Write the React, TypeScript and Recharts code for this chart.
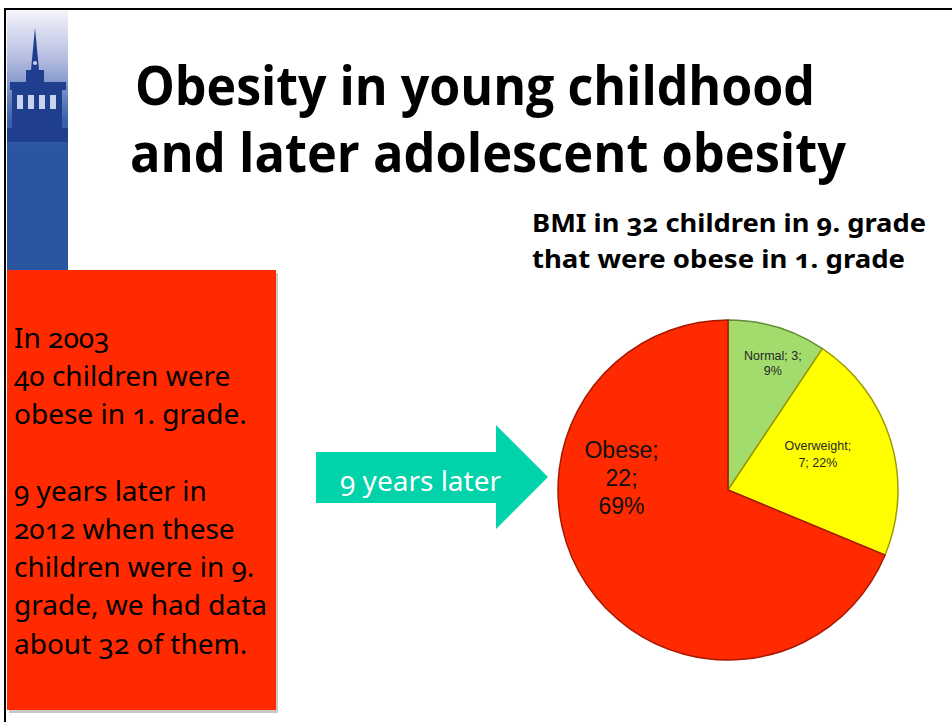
import React from 'react';
import { PieChart, Pie, Cell } from 'recharts';

// BMI groups in 9th grade among the children who were obese in 1st grade
const categories = ['Normal', 'Overweight', 'Obese'];
const counts = [3, 7, 22];
const percents = [9, 22, 69];

const titleLines = ['Obesity in young childhood', 'and later adolescent obesity'];
const subtitleLines = ['BMI in 32 children in 9. grade', 'that were obese in 1. grade'];
const boxLines = [
    'In 2003',
    '40 children were',
    'obese in 1. grade.',
    '',
    '9 years later in',
    '2012 when these',
    'children were in 9.',
    'grade, we had data',
    'about 32 of them.',
];
const arrowText = '9 years later';

const sliceColors = ['#a3dc6c', '#ffff00', '#ff2a00'];
const sliceEdges = ['#5f8c34', '#9c9c00', '#a81800'];

const data = categories.map((name, i) => ({ name, value: counts[i], pct: percents[i] }));

// where each slice label sits: fraction of radius, angle clockwise from 12 o'clock
const labelStyle = [
    { f: 0.79, a: 19.5, size: 12.5, lh: 15, color: '#262626' },
    { f: 0.57, a: 68, size: 12.5, lh: 17, color: '#262626' },
    { f: 0.63, a: 276.4, size: 23, lh: 28, color: '#111' },
];

const labelLines = (d: { name: string; value: number; pct: number }, i: number) => {
    if (i === 0) return [`${d.name}; ${d.value};`, `${d.pct}%`];
    if (i === 1) return [`${d.name};`, `${d.value}; ${d.pct}%`];
    return [`${d.name};`, `${d.value};`, `${d.pct}%`];
};

const renderLabel = (props: any) => {
    const { cx, cy, outerRadius, index } = props;
    const s = labelStyle[index];
    const rad = (s.a * Math.PI) / 180;
    const x = cx + outerRadius * s.f * Math.sin(rad);
    const y = cy - outerRadius * s.f * Math.cos(rad);
    const lines = labelLines(data[index], index);
    const y0 = y - ((lines.length - 1) * s.lh) / 2 + s.size * 0.35;
    return (
        <text
            key={`lbl-${index}`}
            x={x}
            y={y0}
            textAnchor="middle"
            fill={s.color}
            fontSize={s.size}
            fontFamily="'Liberation Sans', Arial, sans-serif"
        >
            {lines.map((l, k) => (
                <tspan key={k} x={x} y={y0 + k * s.lh}>{l}</tspan>
            ))}
        </text>
    );
};

const humanist = "'Noto Sans', 'Open Sans', sans-serif";

const Slide = () => (
    <svg width={952} height={722} style={{ position: 'absolute', left: 0, top: 0 }}>
        <defs>
            <linearGradient id="blueBar" x1="0" y1="0" x2="0" y2="1">
                <stop offset="0%" stopColor="#f4f4fb" />
                <stop offset="18%" stopColor="#b8bfe2" />
                <stop offset="42%" stopColor="#3a62aa" />
                <stop offset="52%" stopColor="#2a56a0" />
                <stop offset="100%" stopColor="#2a56a0" />
            </linearGradient>
        </defs>
        <rect x={0} y={0} width={952} height={722} fill="#fff" />

        {/* left banner with the tower */}
        <rect x={7} y={10} width={61} height={262} fill="url(#blueBar)" />
        <g fill="#1f3f8e">
            <polygon points="35,28 31,70 39,70" />
            <rect x={26} y={70} width={18} height={12} />
            <rect x={10} y={82} width={56} height={8} />
            <rect x={12} y={90} width={50} height={38} />
            <rect x={7} y={128} width={61} height={14} />
        </g>
        <g fill="#c9d3ee">
            <rect x={17} y={95} width={6} height={14} />
            <rect x={28} y={95} width={6} height={14} />
            <rect x={39} y={95} width={6} height={14} />
            <rect x={50} y={95} width={6} height={14} />
            <circle cx={35} cy={63} r={2} />
        </g>

        {/* slide frame */}
        <rect x={4} y={8} width={948} height={2} fill="#000" />
        <rect x={4} y={8} width={2} height={714} fill="#000" />

        {/* title */}
        <text x={135} y={105} fontSize={54} fontWeight={700} fontFamily="'Open Sans', sans-serif"
            textLength={680} lengthAdjust="spacingAndGlyphs" fill="#000">{titleLines[0]}</text>
        <text x={130} y={172} fontSize={54} fontWeight={700} fontFamily="'Open Sans', sans-serif"
            textLength={716} lengthAdjust="spacingAndGlyphs" fill="#000">{titleLines[1]}</text>

        {/* red text box */}
        <rect x={9} y={273} width={269} height={440} fill="#c8c8c8" />
        <rect x={7} y={270} width={269} height={440} fill="#ff2a00" />
        <text fontSize={28} fontFamily={humanist} fill="#000" style={{ fontVariantNumeric: 'oldstyle-nums' }}>
            {boxLines.map((l, i) => (
                <tspan key={i} x={14} y={348 + i * 38.2}>{l}</tspan>
            ))}
        </text>

        {/* arrow */}
        <polygon points="316,452 496,452 496,425 548,477 496,529 496,503 316,503" fill="#00d2aa" />
        <text x={340} y={491} fontSize={28} fontFamily={humanist} fill="#fff"
            style={{ fontVariantNumeric: 'oldstyle-nums' }}>{arrowText}</text>

        {/* chart heading */}
        <text fontSize={25} fontWeight={700} fontFamily={humanist} fill="#000"
            style={{ fontVariantNumeric: 'oldstyle-nums' }}>
            <tspan x={532} y={232} textLength={394} lengthAdjust="spacingAndGlyphs">{subtitleLines[0]}</tspan>
            <tspan x={532} y={268} textLength={373} lengthAdjust="spacingAndGlyphs">{subtitleLines[1]}</tspan>
        </text>
    </svg>
);

export default function App() {
    return (
        <div style={{ position: 'absolute', left: 0, top: 0, width: 952, height: 722, overflow: 'hidden' }}>
            <Slide />
            <div style={{ position: 'absolute', left: 0, top: 0 }}>
                <PieChart width={952} height={722} margin={{ top: 0, right: 0, bottom: 0, left: 0 }}>
                    <Pie
                        data={data}
                        dataKey="value"
                        nameKey="name"
                        cx={728}
                        cy={490}
                        outerRadius={170}
                        startAngle={90}
                        endAngle={-270}
                        label={renderLabel}
                        labelLine={false}
                        isAnimationActive={false}
                    >
                        {data.map((d, i) => (
                            <Cell key={d.name} fill={sliceColors[i]} stroke={sliceEdges[i]} strokeWidth={1.5} />
                        ))}
                    </Pie>
                </PieChart>
            </div>
        </div>
    );
}
